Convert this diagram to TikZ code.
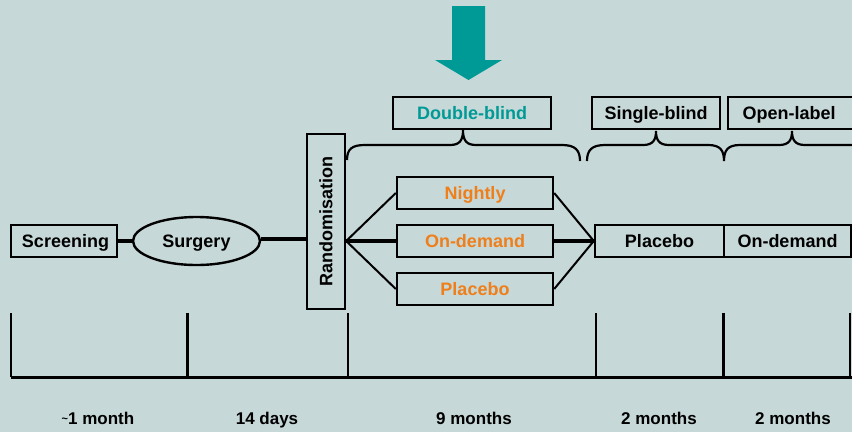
\documentclass[tikz,border=0pt]{standalone}
\usepackage{fontspec}
\setmainfont{Liberation Sans}
\usetikzlibrary{shapes.geometric}
\definecolor{bgc}{HTML}{C7D8D8}
\definecolor{tealc}{HTML}{009A96}
\definecolor{orangec}{HTML}{EE7F1A}
\begin{document}
\begin{tikzpicture}[x=1pt,y=-1pt,
  every node/.style={font=\fontsize{18}{20}\selectfont\bfseries, inner sep=0pt},
  capcenter/.style={text height=12.9pt, text depth=0pt},
  boxnode/.style={draw=black, line width=2.4pt, rectangle, minimum height=32pt},
  ovalnode/.style={draw=black, line width=2.4pt, ellipse, minimum width=127pt, minimum height=48pt, capcenter},
  thickline/.style={line width=3.6pt},
  thinline/.style={line width=2pt},
  bracestyle/.style={line width=2.2pt},
  timestyle/.style={line width=2.2pt},
  lbl/.style={font=\fontsize{17}{19}\selectfont\bfseries, text height=12.2pt, text depth=0pt}
]
\useasboundingbox (0,0) rectangle (852,432);
\fill[bgc] (0,0) rectangle (852,432);
\clip (0,0) rectangle (852,432);

% big arrow
\fill[tealc] (452,6) -- (485,6) -- (485,60) -- (502,60) -- (468.5,80) -- (435,60) -- (452,60) -- cycle;

% top labels
\node[boxnode, capcenter, minimum width=158pt, text=tealc] (DB) at (472,113) {Double-blind};
\node[boxnode, capcenter, minimum width=128pt] (SB) at (656,113) {Single-blind};
\node[boxnode, capcenter, minimum width=134pt, anchor=west] (OL) at (727,113) {\hspace*{-6pt}Open-label\hspace*{6pt}};

% braces
\draw[bracestyle] (347,160) .. controls (347,149) and (352,145) .. (365,145) -- (450,145)
  .. controls (460,145) and (463,140) .. (463,130) .. controls (463,140) and (466,145) .. (476,145)
  -- (562,145) .. controls (575,145) and (580,150) .. (580,161);
\draw[bracestyle] (587,161) .. controls (587,150) and (592,145) .. (605,145) -- (643,145)
  .. controls (653,145) and (656,140) .. (656,131) .. controls (656,140) and (659,145) .. (669,145)
  -- (708,145) .. controls (720,145) and (724,150) .. (724,161)
  .. controls (724,150) and (728,145) .. (740,145) -- (779,145)
  .. controls (789,145) and (792,140) .. (792,131) .. controls (792,140) and (795,145) .. (805,145)
  -- (860,145);

% main flow
\node[boxnode, capcenter, minimum width=106pt] (Scr) at (64,241) {\hspace*{3pt}Screening};
\node[ovalnode] (Surg) at (196.5,241) {Surgery};
\node[boxnode, minimum width=38pt, minimum height=175pt] (Rand) at (326,221.5) {\rotatebox{90}{Randomisation}};

\node[boxnode, capcenter, minimum width=156pt, text=orangec] (Night) at (475,193) {Nightly};
\node[boxnode, capcenter, minimum width=156pt, text=orangec] (OnD) at (475,241) {On-demand};
\node[boxnode, capcenter, minimum width=156pt, text=orangec] (Plac) at (475,289) {Placebo};

\node[boxnode, capcenter, minimum width=129pt] (PlB) at (659.5,241) {Placebo};
\node[boxnode, capcenter, minimum width=127pt] (OnB) at (787.5,241) {On-demand};

\coordinate (fanL) at (Rand.east |- OnD.west);
\coordinate (fanR) at (PlB.west);

\draw[thickline] (Scr.east) -- (Surg.west);
\draw[thickline] (Surg.east |- 0,239) -- (Rand.west |- 0,239);
\draw[thinline] (fanL) -- (Night.west);
\draw[thickline] (fanL) -- (OnD.west);
\draw[thinline] (fanL) -- (Plac.west);
\draw[thinline] (Night.east) -- (fanR);
\draw[thickline] (OnD.east) -- (fanR);
\draw[thinline] (Plac.east) -- (fanR);

% timeline
\foreach \x/\n in {11/t1,187.5/t2,348/t3,596/t4,723.5/t5,850/t6}{
  \coordinate (\n top) at (\x,313);
  \coordinate (\n bot) at (\x,377);
  \draw[timestyle] (\n top) -- (\n bot);
}
\draw[line width=3pt] (t1bot) -- (852,377);

\node[lbl] (L1) at (98,418) {\raisebox{2pt}{\fontsize{11}{12}\selectfont\textasciitilde}1 month};
\node[lbl] (L2) at (267,418) {14 days};
\node[lbl] (L3) at (474,418) {9 months};
\node[lbl] (L4) at (659,418) {2 months};
\node[lbl] (L5) at (793,418) {2 months};
\end{tikzpicture}
\end{document}
